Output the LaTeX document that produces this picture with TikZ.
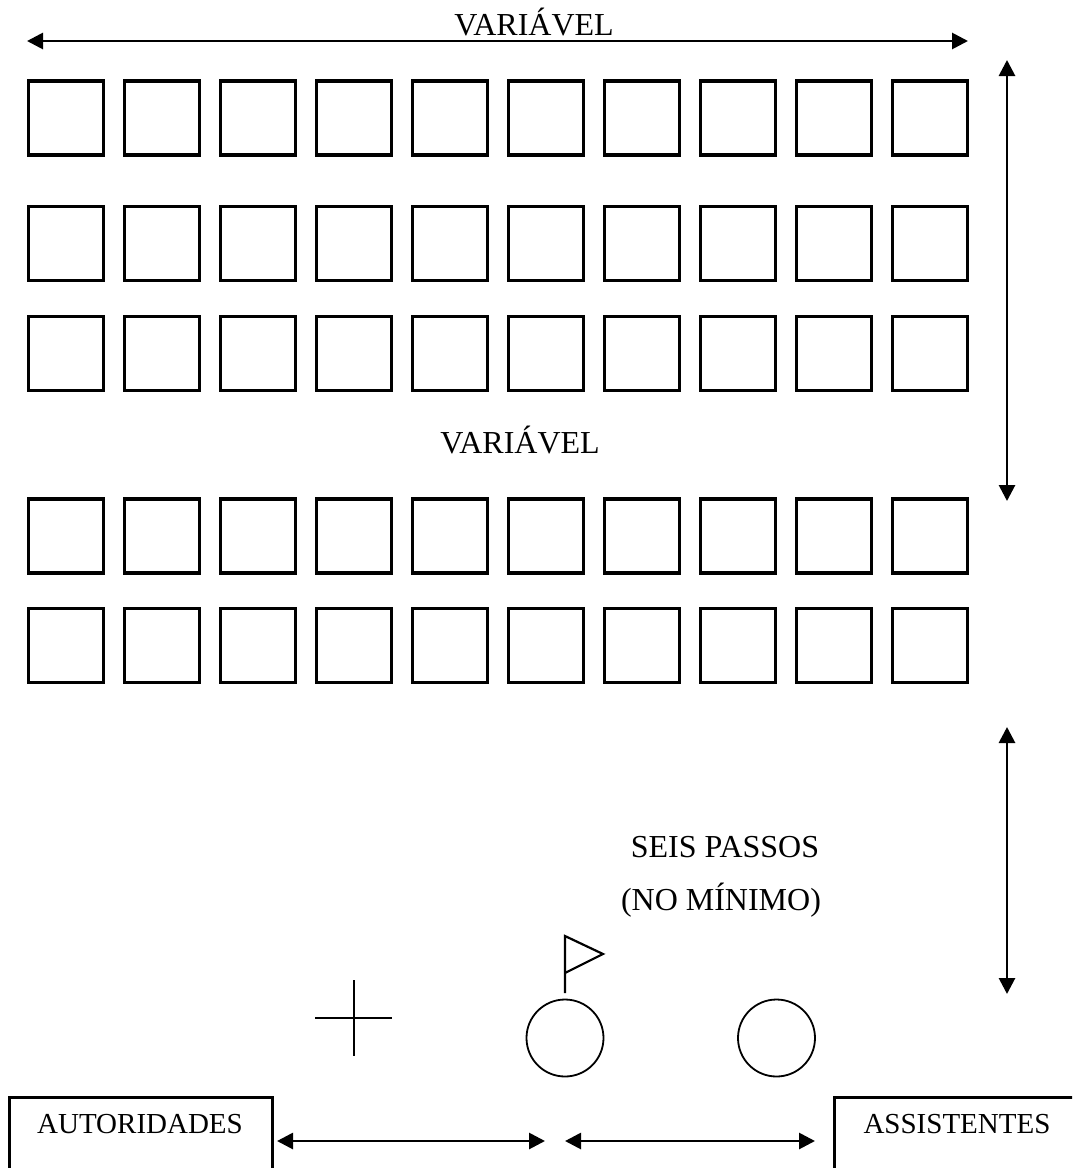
\documentclass[tikz,border=0pt]{standalone}
\usepackage{fontspec}
\setmainfont{Liberation Serif}
\usetikzlibrary{arrows.meta}
\tikzset{
  seat/.style={draw, line width=3.2pt, minimum width=75pt, minimum height=74pt, inner sep=0pt, outer sep=0pt},
  dimarrow/.style={line width=2.8pt, {Triangle[length=16pt,width=16pt]}-{Triangle[length=16pt,width=16pt]}},
  lbl/.style={font=\fontsize{29}{34}\selectfont, inner sep=0pt, anchor=base},
  biglbl/.style={font=\fontsize{32}{38}\selectfont, inner sep=0pt, anchor=base},
  sidebox/.style={draw, line width=2.8pt},
  person/.style={draw, circle, line width=1.8pt, minimum size=77pt, inner sep=0pt},
}
\begin{document}
\begin{tikzpicture}[x=1pt,y=-1pt]
\useasboundingbox (0,0) rectangle (1072,1168);
\clip (0,0) rectangle (1072,1168);
% seats
\foreach \r/\yc in {1/118, 2/243.5, 3/353.5, 4/536, 5/645.5}{
  \foreach \c in {0,...,9}{
    \node[seat] (s-\r-\c) at ({66+96*\c},\yc) {};
  }
}
% dimension arrows
\coordinate (tl) at (27,41);
\coordinate (tr) at (968,41);
\draw[dimarrow] (tl) -- (tr);
\node[biglbl] (var1) at (534,35) {VARIÁVEL};
\coordinate (v1t) at (1007,60);
\coordinate (v1b) at (1007,501);
\draw[dimarrow] (v1t) -- (v1b);
\node[biglbl] (var2) at (520,453) {VARIÁVEL};
\coordinate (v2t) at (1007,727);
\coordinate (v2b) at (1007,994);
\draw[dimarrow] (v2t) -- (v2b);
\node[biglbl] (seis) at (725,857) {SEIS PASSOS};
\node[biglbl] (nomin) at (721,910) {(NO MÍNIMO)};
% cross
\coordinate (cxl) at (315,1018);
\coordinate (cxr) at (392,1018);
\coordinate (cxt) at (354,980);
\coordinate (cxb) at (354,1056);
\draw[line width=2.8pt] (cxl) -- (cxr) (cxt) -- (cxb);
% flag
\coordinate (fb) at (565,993);
\coordinate (ft) at (565,936);
\coordinate (fp) at (603,954);
\coordinate (fm) at (565,973);
\draw[line width=2.2pt, line join=miter] (fb) -- (ft) -- (fp) -- (fm);
% persons
\node[person] (p1) at (565,1038) {};
\node[person] (p2) at (776.5,1038) {};
% side boxes
\draw[sidebox] (9.3,1200) -- (9.3,1097.3) -- (272.7,1097.3) -- (272.7,1200);
\node[lbl] (aut) at (140,1133) {AUTORIDADES};
\draw[sidebox] (834.3,1200) -- (834.3,1097.3) -- (1090,1097.3);
\node[lbl] (ass) at (957,1133) {ASSISTENTES};
% bottom arrows
\coordinate (b1l) at (277,1141);
\coordinate (b1r) at (545,1141);
\coordinate (b2l) at (565,1141);
\coordinate (b2r) at (815,1141);
\draw[dimarrow] (b1l) -- (b1r);
\draw[dimarrow] (b2l) -- (b2r);
\end{tikzpicture}
\end{document}
